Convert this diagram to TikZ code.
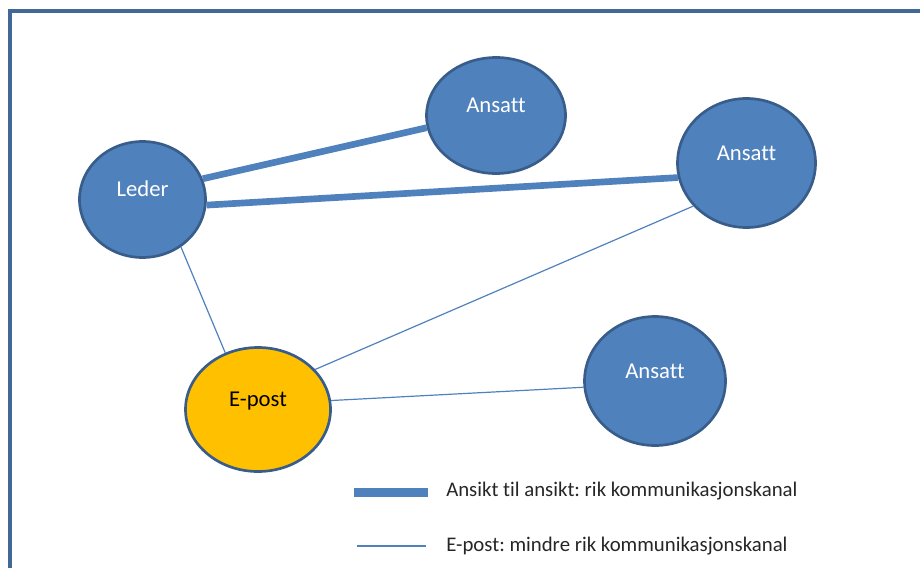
\documentclass[tikz,border=0pt]{standalone}
\usepackage{fontspec}
\setmainfont{Carlito}[Ligatures=NoCommon]
\usepackage{tikz}
\usepackage{xcolor}
\usetikzlibrary{shapes.geometric}
\definecolor{OBlue}{RGB}{79,129,189}
\definecolor{OEdge}{RGB}{56,93,138}
\definecolor{OFrame}{RGB}{65,104,150}
\definecolor{OGold}{RGB}{255,192,0}
\frenchspacing

\begin{document}
\begin{tikzpicture}[
          x=0.75pt, y=-0.75pt,
          font=\fontsize{17}{20}\selectfont,
          person/.style={
            ellipse,
            draw=OEdge,
            line width=2pt,
            fill=OBlue,
            text=white,
            inner sep=0pt,
            text height=12pt,
            text depth=16pt
          },
          mailbox/.style={person, fill=OGold, text=black},
          rich/.style={draw=OBlue, line width=5pt},
          lean/.style={draw=OBlue, line width=0.9pt},
          legendtext/.style={
            anchor=base west,
            inner sep=0pt,
            text=black!85,
            font=\fontsize{15.6}{19}\selectfont
          }
        ]
        \useasboundingbox (0,0) rectangle (920,567);
        \begin{scope}
          \clip (0,0) rectangle (920,567);
          \draw[OFrame, line width=3pt] (10,11) rectangle (960,620);
        \end{scope}

        \node[person, minimum width=94.5pt, minimum height=87pt] (leder) at (142.5,199.5) {Leder};
        \node[person, minimum width=104.25pt, minimum height=87pt] (ansatt1) at (496,115.5) {Ansatt};
        \node[person, minimum width=103.5pt, minimum height=96.75pt] (ansatt2) at (746.5,163) {Ansatt};
        \node[person, minimum width=105.75pt, minimum height=96.75pt] (ansatt3) at (655,381) {Ansatt};
        \node[mailbox, minimum width=108.75pt, minimum height=93pt] (epost) at (258,409.5) {E-post};

        \draw[rich] (leder.19) -- (ansatt1.190);
        \draw[rich] (leder.355) -- (ansatt2.192);
        \draw[lean] (leder.309) -- (epost.120);
        \draw[lean] (epost.35) -- (ansatt2.219);
        \draw[lean] (epost.7) -- (ansatt3.185);

        % forklaring
        \coordinate (richA) at (354,492);
        \coordinate (richB) at (428,492);
        \coordinate (leanA) at (357,546);
        \coordinate (leanB) at (426,546);
        \draw[OBlue, line width=6.75pt] (richA) -- (richB);
        \draw[OBlue, line width=1.1pt] (leanA) -- (leanB);
        \node[legendtext] (richtxt) at (446,496) {Ansikt til ansikt: rik kommunikasjonskanal};
        \node[legendtext] (leantxt) at (446,551) {E-post: mindre rik kommunikasjonskanal};
      \end{tikzpicture}
\end{document}
